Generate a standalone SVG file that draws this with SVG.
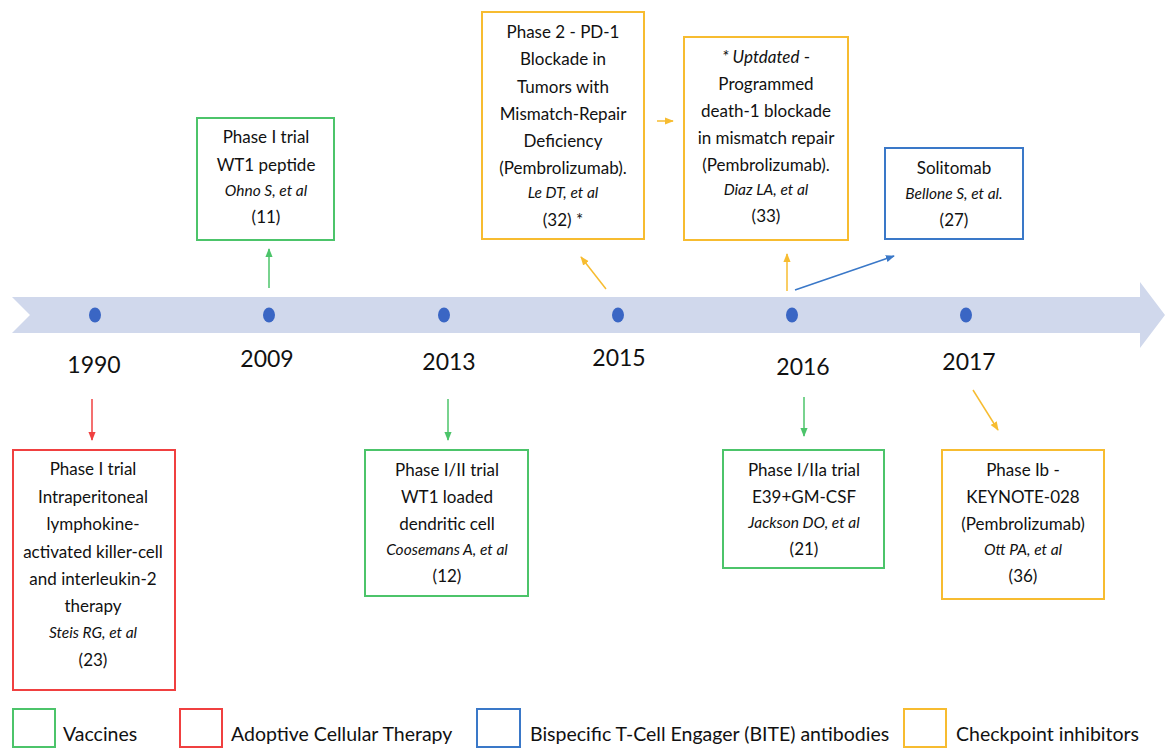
<svg xmlns="http://www.w3.org/2000/svg" width="1166" height="749" viewBox="0 0 1166 749">
<style>
text{font-family:Lato,"Open Sans","Liberation Sans",sans-serif;fill:#111;text-anchor:middle;font-size:17px}
.it{font-style:italic;font-size:15.5px}
.yr{font-size:23px}
.lg{text-anchor:start;font-size:19.5px}
rect{fill:#fff;stroke-width:2}
.g{stroke:#4cc46a}.r{stroke:#f04040}.b{stroke:#3a78c8}.y{stroke:#f7bc30}
.c line{stroke-width:1.5}
</style>
<defs>
<marker id="mg" viewBox="0 0 10 10" refX="9" refY="5" markerWidth="6" markerHeight="6" orient="auto"><path d="M0,1 L10,5 L0,9 z" fill="#4cc46a"/></marker>
<marker id="mr" viewBox="0 0 10 10" refX="9" refY="5" markerWidth="6" markerHeight="6" orient="auto"><path d="M0,1 L10,5 L0,9 z" fill="#f04040"/></marker>
<marker id="mb" viewBox="0 0 10 10" refX="9" refY="5" markerWidth="6" markerHeight="6" orient="auto"><path d="M0,1 L10,5 L0,9 z" fill="#3a78c8"/></marker>
<marker id="my" viewBox="0 0 10 10" refX="9" refY="5" markerWidth="6" markerHeight="6" orient="auto"><path d="M0,1 L10,5 L0,9 z" fill="#f7bc30"/></marker>
</defs>
<g id="timeline">
<path d="M12,297 L1140,297 L1140,282 L1165,315 L1140,348 L1140,333 L12,333 L30,315 Z" fill="#d0d8ec"/>
<g fill="#3a66c4">
<ellipse cx="95" cy="315" rx="6" ry="7.5"/><ellipse cx="269" cy="315" rx="6" ry="7.5"/><ellipse cx="444" cy="315" rx="6" ry="7.5"/><ellipse cx="618" cy="315" rx="6" ry="7.5"/><ellipse cx="792" cy="315" rx="6" ry="7.5"/><ellipse cx="966" cy="315" rx="6" ry="7.5"/>
</g>
<text class="yr" x="94" y="373">1990</text>
<text class="yr" x="267" y="367">2009</text>
<text class="yr" x="449" y="370">2013</text>
<text class="yr" x="619" y="366">2015</text>
<text class="yr" x="803" y="375">2016</text>
<text class="yr" x="969" y="370">2017</text>
</g>
<g id="connectors" class="c">
<line x1="92" y1="399" x2="92" y2="440" stroke="#f04040" marker-end="url(#mr)"/>
<line x1="269" y1="288" x2="269" y2="249" stroke="#4cc46a" marker-end="url(#mg)"/>
<line x1="448" y1="399" x2="448" y2="440" stroke="#4cc46a" marker-end="url(#mg)"/>
<line x1="606" y1="289" x2="581" y2="257" stroke="#f7bc30" marker-end="url(#my)"/>
<line x1="657" y1="121" x2="673" y2="121" stroke="#f7bc30" marker-end="url(#my)"/>
<line x1="787" y1="291" x2="787" y2="254" stroke="#f7bc30" marker-end="url(#my)"/>
<line x1="795" y1="290" x2="894" y2="256" stroke="#3a78c8" marker-end="url(#mb)"/>
<line x1="804" y1="397" x2="804" y2="436" stroke="#4cc46a" marker-end="url(#mg)"/>
<line x1="973" y1="390" x2="998" y2="430" stroke="#f7bc30" marker-end="url(#my)"/>
</g>
<g id="n1990">
<rect class="r" x="13" y="450" width="162" height="240"/>
<text x="93" y="475">Phase I trial</text>
<text x="93" y="503">Intraperitoneal</text>
<text x="93" y="530">lymphokine-</text>
<text x="93" y="558">activated killer-cell</text>
<text x="93" y="585">and interleukin-2</text>
<text x="93" y="612">therapy</text>
<text class="it" x="93" y="638">Steis RG, et al</text>
<text x="93" y="666">(23)</text>
</g>
<g id="n2009">
<rect class="g" x="197" y="118" width="137" height="122"/>
<text x="266" y="143">Phase I trial</text>
<text x="266" y="171">WT1 peptide</text>
<text class="it" x="266" y="196">Ohno S, et al</text>
<text x="266" y="223">(11)</text>
</g>
<g id="n2013">
<rect class="g" x="365" y="450" width="163" height="146"/>
<text x="447" y="476">Phase I/II trial</text>
<text x="447" y="503">WT1 loaded</text>
<text x="447" y="530">dendritic cell</text>
<text class="it" x="447" y="555">Coosemans A, et al</text>
<text x="447" y="582">(12)</text>
</g>
<g id="n2015">
<rect class="y" x="482" y="12" width="162" height="227"/>
<text x="563" y="38">Phase 2 - PD-1</text>
<text x="563" y="65">Blockade in</text>
<text x="563" y="93">Tumors with</text>
<text x="563" y="120">Mismatch-Repair</text>
<text x="563" y="147">Deficiency</text>
<text x="563" y="174">(Pembrolizumab).</text>
<text class="it" x="563" y="198">Le DT, et al</text>
<text x="563" y="226">(32) *</text>
</g>
<g id="n2016a">
<rect class="y" x="684" y="37" width="164" height="203"/>
<text x="766" y="63"><tspan font-style="italic">* Uptdated</tspan> -</text>
<text x="766" y="90">Programmed</text>
<text x="766" y="117">death-1 blockade</text>
<text x="766" y="144">in mismatch repair</text>
<text x="766" y="171">(Pembrolizumab).</text>
<text class="it" x="766" y="195">Diaz LA, et al</text>
<text x="766" y="222">(33)</text>
</g>
<g id="n2016b">
<rect class="b" x="885" y="148" width="138" height="91"/>
<text x="954" y="174">Solitomab</text>
<text class="it" x="954" y="199">Bellone S, et al.</text>
<text x="954" y="226">(27)</text>
</g>
<g id="n2016c">
<rect class="g" x="723" y="450" width="161" height="118"/>
<text x="804" y="476">Phase I/IIa trial</text>
<text x="804" y="503">E39+GM-CSF</text>
<text class="it" x="804" y="528">Jackson DO, et al</text>
<text x="804" y="555">(21)</text>
</g>
<g id="n2017">
<rect class="y" x="942" y="450" width="162" height="149"/>
<text x="1023" y="476">Phase Ib -</text>
<text x="1023" y="503">KEYNOTE-028</text>
<text x="1023" y="530">(Pembrolizumab)</text>
<text class="it" x="1023" y="555">Ott PA, et al</text>
<text x="1023" y="582">(36)</text>
</g>
<g id="legend">
<rect class="g" x="13" y="709" width="42" height="38"/>
<text class="lg" x="63" y="741">Vaccines</text>
<rect class="r" x="180" y="709" width="42" height="38"/>
<text class="lg" x="231" y="741">Adoptive Cellular Therapy</text>
<rect class="b" x="477" y="709" width="43" height="38"/>
<text class="lg" x="530" y="741">Bispecific T-Cell Engager (BITE) antibodies</text>
<rect class="y" x="904" y="709" width="42" height="38"/>
<text class="lg" x="956" y="741">Checkpoint inhibitors</text>
</g>
</svg>
